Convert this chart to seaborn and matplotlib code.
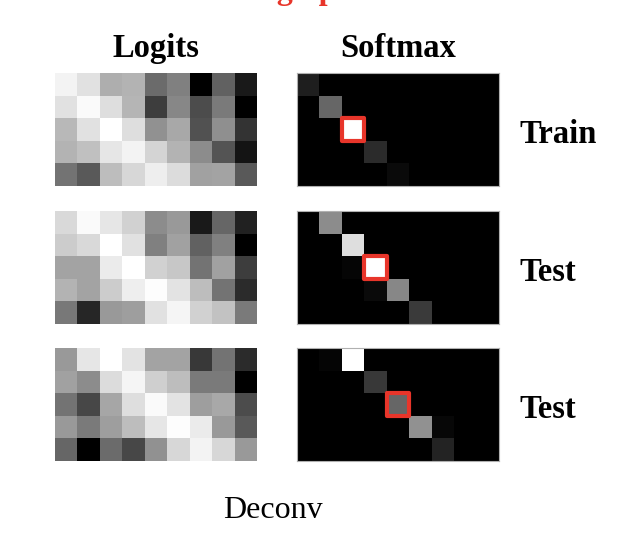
import numpy as np
import pandas as pd
import seaborn as sns
import matplotlib
matplotlib.use("Agg")
import matplotlib.pyplot as plt
from matplotlib.patches import Rectangle

sns.set_theme(style="white")
plt.rcParams['font.family'] = ['Liberation Serif', 'DejaVu Serif']

col_titles = ["Logits", "Softmax"]
row_labels = ["Train", "Test", "Test"]
xlabel_text = "Deconv"
top_text = "Scaling up"

logits_train = [
    [0.95, 0.88, 0.68, 0.70, 0.42, 0.50, 0.00, 0.38, 0.10],
    [0.88, 0.98, 0.87, 0.71, 0.24, 0.53, 0.30, 0.48, 0.00],
    [0.72, 0.88, 1.00, 0.87, 0.57, 0.66, 0.32, 0.56, 0.20],
    [0.70, 0.75, 0.90, 0.95, 0.83, 0.70, 0.55, 0.33, 0.08],
    [0.45, 0.35, 0.74, 0.84, 0.93, 0.86, 0.63, 0.64, 0.35],
]
softmax_train = [
    [0.12, 0, 0, 0, 0, 0, 0, 0, 0],
    [0, 0.40, 0, 0, 0, 0, 0, 0, 0],
    [0, 0, 1.00, 0, 0, 0, 0, 0, 0],
    [0, 0, 0, 0.17, 0, 0, 0, 0, 0],
    [0, 0, 0, 0, 0.04, 0, 0, 0, 0],
]
logits_test1 = [
    [0.85, 0.98, 0.90, 0.82, 0.55, 0.60, 0.10, 0.40, 0.13],
    [0.80, 0.85, 1.00, 0.88, 0.50, 0.63, 0.38, 0.50, 0.00],
    [0.64, 0.64, 0.92, 1.00, 0.82, 0.78, 0.45, 0.63, 0.24],
    [0.70, 0.64, 0.80, 0.93, 0.99, 0.89, 0.74, 0.45, 0.17],
    [0.47, 0.15, 0.60, 0.62, 0.88, 0.96, 0.82, 0.76, 0.48],
]
softmax_test1 = [
    [0, 0.55, 0, 0, 0, 0, 0, 0, 0],
    [0, 0, 0.87, 0, 0, 0, 0, 0, 0],
    [0, 0, 0.02, 1.00, 0, 0, 0, 0, 0],
    [0, 0, 0, 0.04, 0.53, 0, 0, 0, 0],
    [0, 0, 0, 0, 0, 0.23, 0, 0, 0],
]
logits_test2 = [
    [0.60, 0.90, 1.00, 0.89, 0.64, 0.64, 0.22, 0.45, 0.17],
    [0.63, 0.55, 0.86, 0.96, 0.81, 0.74, 0.48, 0.48, 0.00],
    [0.45, 0.28, 0.65, 0.87, 0.98, 0.89, 0.62, 0.66, 0.30],
    [0.60, 0.48, 0.62, 0.74, 0.90, 0.99, 0.92, 0.60, 0.35],
    [0.40, 0.00, 0.42, 0.28, 0.57, 0.84, 0.95, 0.84, 0.60],
]
softmax_test2 = [
    [0, 0.02, 1.00, 0, 0, 0, 0, 0, 0],
    [0, 0, 0, 0.22, 0, 0, 0, 0, 0],
    [0, 0, 0, 0, 0.40, 0, 0, 0, 0],
    [0, 0, 0, 0, 0, 0.57, 0.03, 0, 0],
    [0, 0, 0, 0, 0, 0, 0.14, 0, 0],
]
# highlighted softmax cell per row: (row, col)
highlight_cells = [(2, 2), (2, 3), (2, 4)]

logits_all = [logits_train, logits_test1, logits_test2]
softmax_all = [softmax_train, softmax_test1, softmax_test2]

W, H = 636, 556
fig = plt.figure(figsize=(W / 100, H / 100), dpi=100)

col_x = [55, 297]
col_w = 202
row_top = [73, 211, 348]
row_h = 113

def px_axes(x, top, w, h):
    return fig.add_axes([x / W, (H - top - h) / H, w / W, h / H])

for r in range(3):
    for c in range(2):
        ax = px_axes(col_x[c], row_top[r], col_w, row_h)
        data = logits_all[r] if c == 0 else softmax_all[r]
        sns.heatmap(pd.DataFrame(data), ax=ax, cmap="gray", vmin=0, vmax=1,
                    cbar=False, xticklabels=False, yticklabels=False,
                    square=False)
        ax.set_xlabel("")
        ax.set_ylabel("")
        if c == 1:
            for s in ax.spines.values():
                s.set_visible(True)
                s.set_color("#b0b0b0")
                s.set_linewidth(0.8)
            hr, hc = highlight_cells[r]
            ax.add_patch(Rectangle((hc, hr), 1, 1, fill=False,
                                   edgecolor="#e8352a", linewidth=3.0,
                                   joinstyle="round",
                                   clip_on=False, zorder=5))
        else:
            for s in ax.spines.values():
                s.set_visible(False)
        if r == 0:
            fig.text((col_x[c] + col_w / 2) / W, 1 - 57 / H, col_titles[c],
                     fontsize=23.5, fontweight="bold", ha="center",
                     va="baseline", color="black")
    fig.text(519 / W, 1 - (row_top[r] + row_h / 2 + 5) / H, row_labels[r],
             fontsize=23.5, fontweight="bold", ha="left", va="center",
             color="black")

fig.text(273 / W, 1 - 510 / H, xlabel_text, fontsize=23, ha="center",
         va="center", color="black")
fig.text(193 / W, 1 + 1.5 / H, top_text, fontsize=23, fontweight="bold",
         ha="left", va="baseline", color="#e8352a")

fig.savefig("out.png", dpi=100, facecolor="white")
